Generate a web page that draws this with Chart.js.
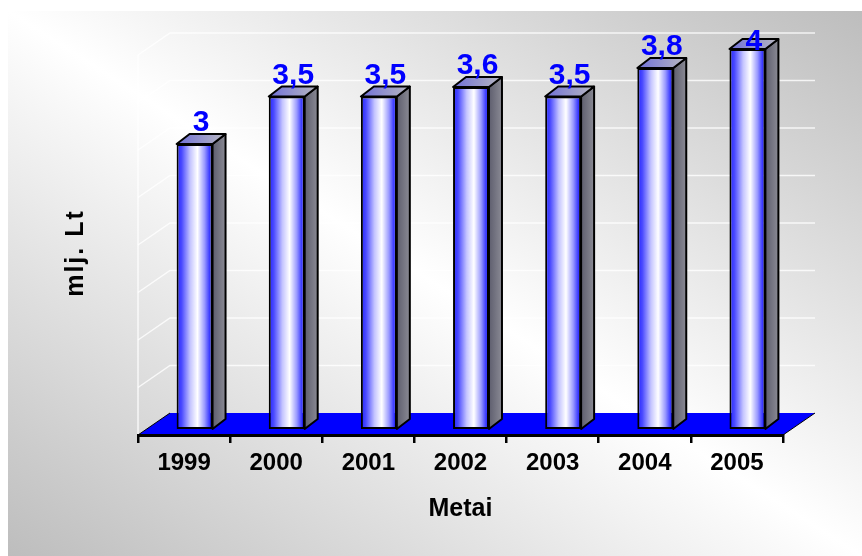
<!DOCTYPE html>
<html>
<head>
<meta charset="utf-8">
<title>mlj. Lt</title>
<script src="https://cdn.jsdelivr.net/npm/chart.js@4.4.1/dist/chart.umd.min.js"></script>
<style>
  html, body { margin: 0; padding: 0; background: #fff; }
  .wrap { position: relative; width: 862px; height: 556px; overflow: hidden; }
  .bg {
    position: absolute; left: 8px; top: 11px; right: 0; bottom: 0;
    background: linear-gradient(to top right, #bdbdbd 0%, #ffffff 50%, #bdbdbd 100%);
  }
  canvas { position: absolute; left: 0; top: 0; }
</style>
</head>
<body>
<div class="wrap">
  <div class="bg"></div>
  <canvas id="chart" width="862" height="556"></canvas>
</div>
<script>
(() => {
  const YEARS = ["1999", "2000", "2001", "2002", "2003", "2004", "2005"];
  const VALUES = [3, 3.5, 3.5, 3.6, 3.5, 3.8, 4];
  const Y_MIN = 0;
  const Y_MAX = 4;
  const Y_STEP = 0.5;
  const X_TITLE = "Metai";
  const Y_TITLE = "mlj. Lt";

  const FONT = "'Liberation Sans', Arial, sans-serif";
  const BAR_PCT = 0.39;

  // depth of the floor / walls and of each bar (3D look)
  const WALL_DX = 32, WALL_DY = 22;
  const BAR_DX = 13, BAR_DY = 10;
  const BAR_SHIFT_X = 10.5, BAR_SHIFT_Y = 6;

  function fmt(v) {
    return String(v).replace(".", ",");
  }

  function frontGradient(c) {
    const chart = c.chart;
    const xs = chart.scales && chart.scales.x;
    if (!xs || c.dataIndex === undefined || !xs.width) return "#7070ff";
    const cx = xs.getPixelForValue(c.dataIndex);
    const half = (xs.width / YEARS.length) * BAR_PCT / 2;
    const g = chart.ctx.createLinearGradient(cx - half, 0, cx + half, 0);
    g.addColorStop(0, "#2222ff");
    g.addColorStop(0.14, "#4a4aff");
    g.addColorStop(0.38, "#c4c4ff");
    g.addColorStop(0.58, "#ffffff");
    g.addColorStop(0.78, "#9a9aff");
    g.addColorStop(0.92, "#3838ff");
    g.addColorStop(1, "#2626ff");
    return g;
  }

  const depthPlugin = {
    id: "depth3d",
    beforeDraw(chart) {
      const { ctx, chartArea: a, scales: { y } } = chart;
      ctx.save();

      // walls grid
      ctx.strokeStyle = "rgba(255,255,255,0.8)";
      ctx.lineWidth = 1.5;
      y.ticks.forEach((t) => {
        if (t.value === Y_MIN) return;
        const py = y.getPixelForValue(t.value);
        ctx.beginPath();
        ctx.moveTo(a.left, py);
        ctx.lineTo(a.left + WALL_DX, py - WALL_DY);
        ctx.lineTo(a.right + WALL_DX, py - WALL_DY);
        ctx.stroke();
      });
      ctx.beginPath();
      ctx.moveTo(a.left, a.bottom);
      ctx.lineTo(a.left, a.top);
      ctx.stroke();

      // floor
      ctx.fillStyle = "#0000ff";
      ctx.beginPath();
      ctx.moveTo(a.left, a.bottom);
      ctx.lineTo(a.right, a.bottom);
      ctx.lineTo(a.right + WALL_DX, a.bottom - WALL_DY);
      ctx.lineTo(a.left + WALL_DX, a.bottom - WALL_DY);
      ctx.closePath();
      ctx.fill();
      ctx.strokeStyle = "#000";
      ctx.lineWidth = 1;
      ctx.beginPath();
      ctx.moveTo(a.left, a.bottom);
      ctx.lineTo(a.left + WALL_DX, a.bottom - WALL_DY);
      ctx.moveTo(a.right, a.bottom);
      ctx.lineTo(a.right + WALL_DX, a.bottom - WALL_DY);
      ctx.stroke();

      // y title
      ctx.translate(a.left - 61.5, (a.top + a.bottom) / 2 + 8);
      ctx.rotate(-Math.PI / 2);
      ctx.fillStyle = "#000";
      ctx.font = `bold 25px ${FONT}`;
      ctx.letterSpacing = "2px";
      ctx.textAlign = "center";
      ctx.textBaseline = "middle";
      ctx.fillText(Y_TITLE, 0, 0);
      ctx.restore();
    },
    beforeDatasetsDraw(chart) {
      chart.ctx.save();
      chart.ctx.translate(BAR_SHIFT_X, -BAR_SHIFT_Y);
    },
    afterDatasetsDraw(chart) {
      const { ctx, chartArea: a } = chart;
      const meta = chart.getDatasetMeta(0);
      meta.data.forEach((bar, i) => {
        const { x, y, base, width } = bar.getProps(["x", "y", "base", "width"], true);
        const l = x - width / 2;
        const r = x + width / 2;

        ctx.lineWidth = 2;
        ctx.strokeStyle = "#000";
        ctx.lineJoin = "round";

        // side face
        const sg = ctx.createLinearGradient(r, 0, r + BAR_DX, 0);
        sg.addColorStop(0, "#5e5e6e");
        sg.addColorStop(1, "#8a8a94");
        ctx.fillStyle = sg;
        ctx.beginPath();
        ctx.moveTo(r, y);
        ctx.lineTo(r + BAR_DX, y - BAR_DY);
        ctx.lineTo(r + BAR_DX, base - BAR_DY);
        ctx.lineTo(r, base);
        ctx.closePath();
        ctx.fill();
        ctx.stroke();

        // top face
        const tg = ctx.createLinearGradient(l, 0, r + BAR_DX, 0);
        tg.addColorStop(0, "#7070d8");
        tg.addColorStop(1, "#b8b8c0");
        ctx.fillStyle = tg;
        ctx.beginPath();
        ctx.moveTo(l, y);
        ctx.lineTo(r, y);
        ctx.lineTo(r + BAR_DX, y - BAR_DY);
        ctx.lineTo(l + BAR_DX, y - BAR_DY);
        ctx.closePath();
        ctx.fill();
        ctx.stroke();

        // value label
        ctx.fillStyle = "#0000ff";
        ctx.font = `bold 30px ${FONT}`;
        ctx.textAlign = "center";
        ctx.textBaseline = "alphabetic";
        const by = Math.max(y - BAR_DY - 3, a.top + 1);
        ctx.fillText(fmt(VALUES[i]), x + BAR_DX / 2, by);
      });
      ctx.restore();
    },
  };

  new Chart(document.getElementById("chart"), {
    type: "bar",
    data: {
      labels: YEARS,
      datasets: [
        {
          data: VALUES,
          backgroundColor: frontGradient,
          borderColor: "#000",
          borderWidth: 2,
          borderSkipped: false,
          barPercentage: BAR_PCT,
          categoryPercentage: 1,
        },
      ],
    },
    options: {
      responsive: false,
      animation: false,
      layout: { padding: { top: 55, right: 79, bottom: 0, left: 0 } },
      plugins: {
        legend: { display: false },
        tooltip: { enabled: false },
      },
      scales: {
        x: {
          offset: true,
          grid: {
            display: true,
            offset: true,
            drawOnChartArea: false,
            drawTicks: true,
            tickLength: 8,
            lineWidth: 2.5,
            color: "#000",
            tickColor: "#000",
          },
          border: { display: true, color: "#000", width: 3 },
          ticks: {
            color: "#000",
            font: { family: FONT, size: 24, weight: "bold" },
            padding: 6,
            maxRotation: 0,
            autoSkip: false,
          },
          title: {
            display: true,
            text: X_TITLE,
            color: "#000",
            font: { family: FONT, size: 25, weight: "bold" },
            padding: { top: 0, bottom: 32 },
          },
          afterFit(scale) {
            scale.height = 121;
          },
        },
        y: {
          min: Y_MIN,
          max: Y_MAX,
          ticks: { stepSize: Y_STEP, display: false },
          grid: { display: false },
          border: { display: false },
          afterFit(scale) {
            scale.width = 138;
          },
        },
      },
    },
    plugins: [depthPlugin],
  });
})();
</script>
</body>
</html>
